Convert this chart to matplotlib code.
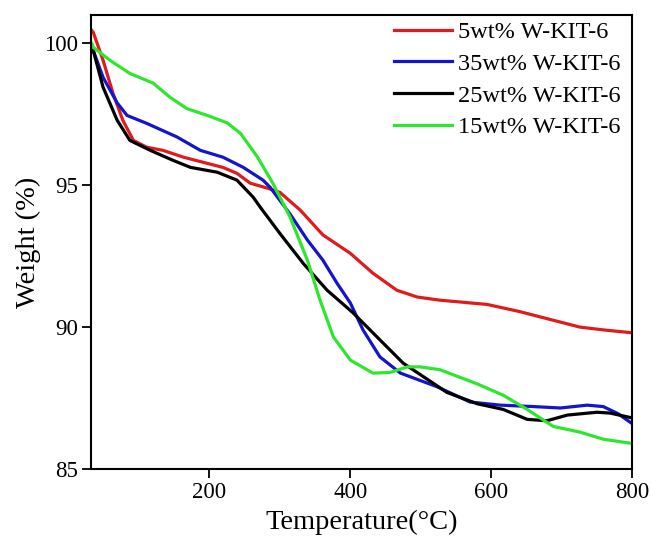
import matplotlib
matplotlib.use("Agg")
import matplotlib.pyplot as plt

plt.rcParams["font.family"] = ["Liberation Serif", "DejaVu Serif"]

# values
x_5 = [33, 35, 49, 63, 77, 92, 111, 134, 163, 197, 219, 239, 258, 282, 300,
       329, 361, 400, 432, 466, 495, 527, 594, 640, 679, 726, 760, 800]
w_5 = [100.45, 100.39, 99.4, 98.24, 97.29, 96.58, 96.34, 96.23, 95.99, 95.77,
       95.63, 95.42, 95.07, 94.9, 94.75, 94.12, 93.25, 92.6, 91.9, 91.3,
       91.06, 90.95, 90.8, 90.55, 90.3, 90.0, 89.9, 89.8]

x_35 = [33, 35, 49, 69, 83, 111, 154, 187, 219, 248, 276, 286, 314, 339,
        361, 381, 400, 418, 442, 471, 523, 570, 613, 660, 698, 736, 759, 780,
        800]
w_35 = [99.9, 99.75, 98.8, 97.9, 97.46, 97.18, 96.7, 96.23, 95.99, 95.63,
        95.18, 94.93, 94.0, 93.07, 92.36, 91.55, 90.85, 89.9, 88.95, 88.38,
        87.9, 87.36, 87.25, 87.2, 87.15, 87.25, 87.2, 86.95, 86.6]

x_25 = [33, 35, 49, 69, 87, 116, 148, 173, 211, 239, 262, 272, 300, 333,
        367, 404, 442, 475, 537, 580, 617, 651, 679, 708, 750, 769, 800]
w_25 = [99.9, 99.75, 98.45, 97.29, 96.58, 96.23, 95.88, 95.63, 95.46, 95.18,
        94.58, 94.23, 93.3, 92.25, 91.3, 90.5, 89.55, 88.73, 87.7, 87.3, 87.1,
        86.75, 86.7, 86.9, 87.0, 86.97, 86.8]

x_15 = [33, 35, 59, 87, 120, 144, 168, 197, 225, 244, 268, 290, 314, 339,
        357, 376, 400, 432, 456, 481, 499, 527, 580, 617, 651, 688, 726, 759,
        800]
w_15 = [100.0, 99.86, 99.4, 98.94, 98.6, 98.1, 97.7, 97.46, 97.2, 96.83,
        96.0, 95.07, 93.9, 92.36, 90.95, 89.65, 88.84, 88.38, 88.4, 88.6,
        88.6, 88.5, 88.0, 87.6, 87.1, 86.5, 86.3, 86.05, 85.9]

series = [
    ("5wt% W-KIT-6", x_5, w_5, "#e01b1b"),
    ("35wt% W-KIT-6", x_35, w_35, "#1414cc"),
    ("25wt% W-KIT-6", x_25, w_25, "#000000"),
    ("15wt% W-KIT-6", x_15, w_15, "#2ee62e"),
]

fig = plt.figure(figsize=(6.51, 5.36), dpi=100)
ax = fig.add_axes([0.14, 0.125, 0.831, 0.847])

for label, xs, ws, c in series:
    ax.plot(xs, ws, color=c, lw=2.3, label=label)

ax.set_xlim(32, 800)
ax.set_ylim(85, 101)
ax.set_xticks([200, 400, 600, 800])
ax.set_yticks([85, 90, 95, 100])
ax.tick_params(direction="out", length=6.5, width=1.3, labelsize=16.5,
               pad=3, top=False, right=False)
for s in ax.spines.values():
    s.set_linewidth(1.5)

ax.set_xlabel("Temperature(°C)", fontsize=20.5, labelpad=5)
ax.set_ylabel("Weight (%)", fontsize=20.5, labelpad=2)

ax.legend(loc="upper right", bbox_to_anchor=(0.984, 0.992), frameon=False,
          fontsize=17.5, handlelength=2.4, handletextpad=0.25,
          labelspacing=0.4, borderaxespad=0, borderpad=0.1)

fig.savefig("out.png", dpi=100)
